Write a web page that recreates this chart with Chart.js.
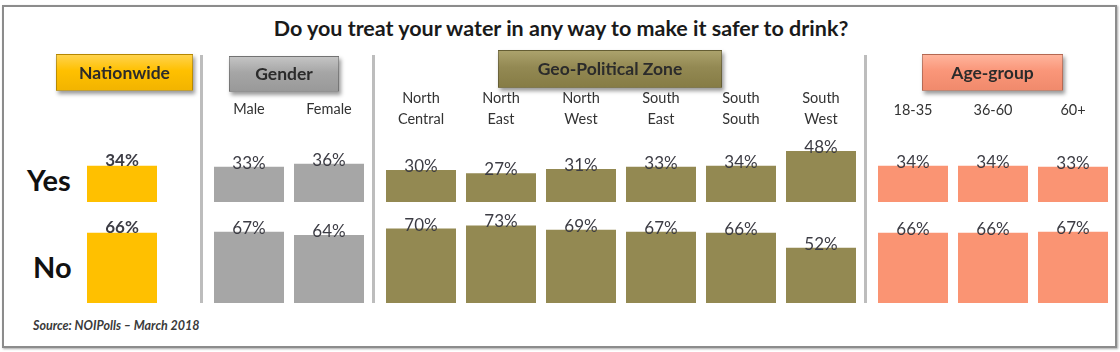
<!DOCTYPE html>
<html>
<head>
<meta charset="utf-8">
<script src="https://cdn.jsdelivr.net/npm/chart.js@4"></script>
<style>
  body { margin: 0; background: #fff; font-family: Lato, "Open Sans", sans-serif; }
  #page { position: relative; width: 1120px; height: 352px; overflow: hidden; }
  .frame { position: absolute; left: 2px; top: 5px; width: 1111px; height: 339px; border: 2px solid #8c8c8c; box-shadow: 1px 1px 2px rgba(0,0,0,.35); }
  .title { position: absolute; left: 0; width: 1122px; top: 15px; text-align: center; font-weight: bold; font-size: 21.5px; color: #1a1a1a; }
  .hdr { position: absolute; box-sizing: border-box; text-align: center; font-weight: bold; font-size: 17.5px; color: #2b2b2b;
         border: 1px solid rgba(0,0,0,.25); box-shadow: 2px 3px 4px rgba(0,0,0,.4); }
  .sep { position: absolute; top: 55px; width: 3px; height: 248px; background: #bdbdbd; }
  .row { position: absolute; font-size: 29px; font-weight: bold; color: #111; }
  .src { position: absolute; left: 33px; top: 318px; font-size: 12.5px; font-style: italic; font-weight: bold; color: #3a3a3a; }
  .box { position: absolute; top: 82px; height: 224px; }
</style>
</head>
<body>
<div id="page">
  <div class="frame"></div>
  <div class="title">Do you treat your water in any way to make it safer to drink?</div>

  <div class="sep" style="left:200px"></div>
  <div class="sep" style="left:372px"></div>
  <div class="sep" style="left:864px"></div>

  <div class="row" style="left:27px;top:162px;">Yes</div>
  <div class="row" style="left:33px;top:249px;">No</div>

  <div class="box" style="left:82px;width:80px"><canvas id="cNation"></canvas></div>
  <div class="box" style="left:209px;width:160px"><canvas id="cGender"></canvas></div>
  <div class="box" style="left:381px;width:480px"><canvas id="cZone"></canvas></div>
  <div class="box" style="left:873px;width:240px"><canvas id="cAge"></canvas></div>

  <div class="hdr" style="left:56px;top:54px;width:137px;height:37px;line-height:35px;background:linear-gradient(#ffd34d,#ffc000 45%,#f2b400);">Nationwide</div>
  <div class="hdr" style="left:229px;top:56px;width:110px;height:36px;line-height:34px;background:linear-gradient(#c4c4c4,#a6a6a6 45%,#999);">Gender</div>
  <div class="hdr" style="left:498px;top:50px;width:224px;height:38px;line-height:36px;background:linear-gradient(#aba26c,#938953 45%,#867c45);">Geo-Political Zone</div>
  <div class="hdr" style="left:922px;top:54px;width:141px;height:37px;line-height:35px;background:linear-gradient(#ffb49c,#fa9679 45%,#f08a6c);">Age-group</div>

  <div class="src">Source: NOIPolls – March 2018</div>
</div>

<script>
// categories
const nationLabels = ['Nationwide']
const genderLabels = ['Male', 'Female']
const zoneLabels = [['North', 'Central'], ['North', 'East'], ['North', 'West'], ['South', 'East'], ['South', 'South'], ['South', 'West']]
const ageLabels = ['18-35', '36-60', '60+']

// values (%)
const nationYes = [34]
const nationNo = [66]
const genderYes = [33, 36]
const genderNo = [67, 64]
const zoneYes = [30, 27, 31, 33, 34, 48]
const zoneNo = [70, 73, 69, 67, 66, 52]
const ageYes = [34, 34, 33]
const ageNo = [66, 66, 67]

const pctLabels = {
    id: 'pctLabels',
    afterDatasetsDraw(chart, args, opts) {
        const ctx = chart.ctx
        ctx.save()
        ctx.font = opts.font
        ctx.fillStyle = opts.color
        ctx.textAlign = 'center'
        ctx.textBaseline = 'alphabetic'
        chart.data.datasets.forEach((ds, i) => {
            chart.getDatasetMeta(i).data.forEach((bar, j) => {
                ctx.fillText(ds.data[j] + '%', bar.x, bar.y + opts.shift)
            })
        })
        ctx.restore()
    }
}

function createChart(id, labels, yes, no, color, tickPad, labelFont, shift, showTicks) {
    const el = document.getElementById(id)
    new Chart(el, {
        type: 'bar',
        data: {
            labels: labels,
            datasets: [
                { label: 'Yes', data: yes, yAxisID: 'yYes', backgroundColor: color, grouped: false },
                { label: 'No', data: no, yAxisID: 'yNo', backgroundColor: color, grouped: false }
            ]
        },
        options: {
            responsive: true,
            maintainAspectRatio: false,
            animation: false,
            barPercentage: 0.875,
            categoryPercentage: 1,
            layout: { padding: { top: 0, bottom: 3, left: 0, right: 0 } },
            plugins: {
                legend: { display: false },
                tooltip: { enabled: false },
                pctLabels: { font: labelFont, color: '#3c3c44', shift: shift }
            },
            scales: {
                x: {
                    position: 'top',
                    grid: { display: false, drawTicks: false },
                    border: { display: false },
                    ticks: {
                        display: showTicks,
                        padding: tickPad,
                        color: '#333',
                        font: { family: 'Lato', size: 14.5, lineHeight: 1.4 },
                        maxRotation: 0,
                        autoSkip: false
                    },
                    afterFit(scale) { scale.height = 46 }
                },
                yYes: {
                    position: 'left',
                    stack: 'rows',
                    stackWeight: 74,
                    weight: 2,
                    min: 0,
                    max: 69.5,
                    grid: { display: false, drawTicks: false },
                    border: { display: false },
                    ticks: { display: false }
                },
                yNo: {
                    position: 'left',
                    stack: 'rows',
                    stackWeight: 101,
                    weight: 1,
                    min: 0,
                    max: 95,
                    grid: { display: false, drawTicks: false },
                    border: { display: false },
                    ticks: { display: false }
                }
            }
        },
        plugins: [pctLabels]
    })
}

createChart('cNation', nationLabels, nationYes, nationNo, '#ffc000', 0, 'bold 17px Lato', 0, false)
createChart('cGender', genderLabels, genderYes, genderNo, '#a6a6a6', 9, '17px Lato', 2, true)
createChart('cZone', zoneLabels, zoneYes, zoneNo, '#938952', -1, '17px Lato', 2, true)
createChart('cAge', ageLabels, ageYes, ageNo, '#fa9473', 8, '17px Lato', 2, true)
</script>
</body>
</html>
